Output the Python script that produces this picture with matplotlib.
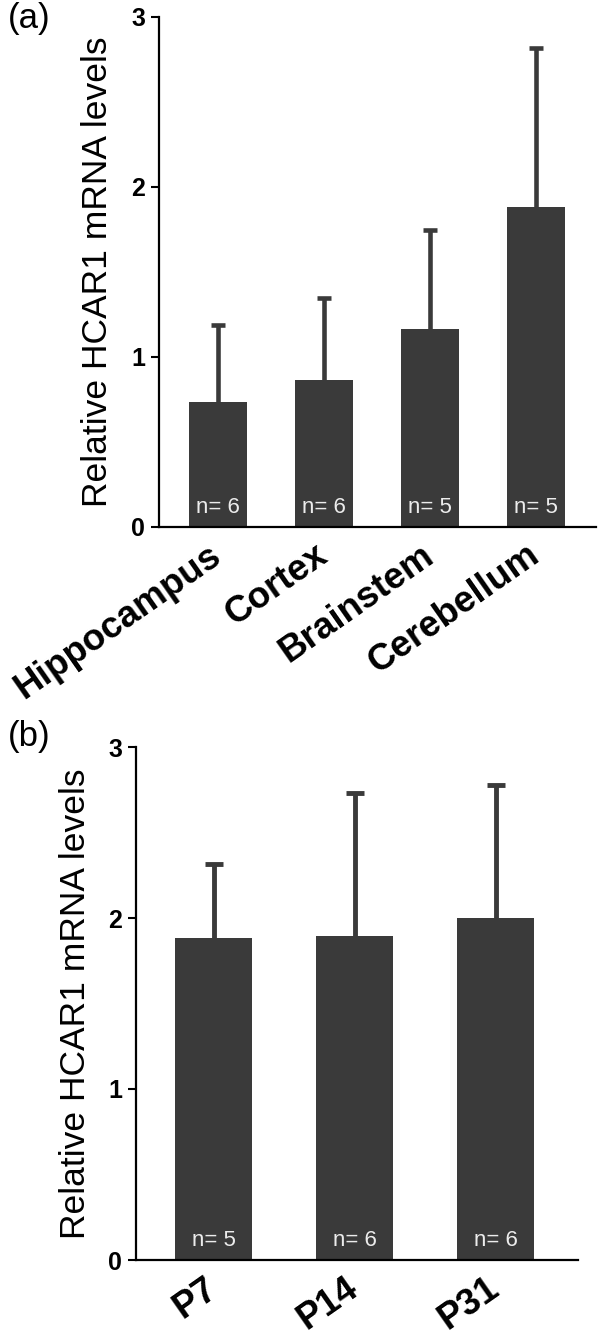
import matplotlib
matplotlib.use("Agg")
import matplotlib.pyplot as plt
import matplotlib.transforms as mtransforms

plt.rcParams['font.family'] = ['Liberation Sans', 'DejaVu Sans']

# Panel (a): brain regions
regions = ["Hippocampus", "Cortex", "Brainstem", "Cerebellum"]
region_means = [0.735, 0.867, 1.165, 1.88]
region_upper = [1.19, 1.35, 1.75, 2.82]   # top of error bars
region_n = ["n= 6", "n= 6", "n= 5", "n= 5"]

# Panel (b): developmental ages
ages = ["P7", "P14", "P31"]
age_means = [1.882, 1.893, 1.998]
age_upper = [2.315, 2.733, 2.78]
age_n = ["n= 5", "n= 6", "n= 6"]

yticks = [0, 1, 2, 3]
ylabel = "Relative HCAR1 mRNA levels"

BAR = "#3a3a3a"
W, H = 602, 1338
fig = plt.figure(figsize=(W / 100, H / 100), dpi=100)

def px_axes(x0, x1, ytop, ybot):
    return fig.add_axes([x0 / W, 1 - ybot / H, (x1 - x0) / W, (ybot - ytop) / H])

def draw(ax, cats, means, upper, ns, width, xlim, cap, lw, ylab_x):
    xs = list(range(len(cats)))
    errs = [u - m for u, m in zip(upper, means)]
    ax.bar(xs, means, width=width, color=BAR, zorder=2)
    ax.errorbar(xs, means, yerr=[[0] * len(errs), errs], fmt='none',
                ecolor=BAR, elinewidth=lw, capsize=0, zorder=1)
    ax.plot(xs, upper, linestyle='none', marker='_', markersize=cap,
            markeredgewidth=lw, color=BAR, zorder=1)
    for x, t in zip(xs, ns):
        ax.text(x, 0.08, t, color='#ececec', fontsize=16, ha='center',
                va='baseline', zorder=3)
    ax.set_xlim(*xlim)
    ax.set_ylim(0, 3)
    ax.set_yticks(yticks)
    ax.set_yticklabels([str(v) for v in yticks], fontsize=18, fontweight='bold')
    ax.set_xticks(xs)
    ax.set_xticklabels(cats, rotation=35, ha='right', rotation_mode='anchor',
                       fontsize=26.5, fontweight='bold', va='center')
    shift = mtransforms.ScaledTranslation(7 / 100, 0, fig.dpi_scale_trans)
    for lab in ax.get_xticklabels():
        lab.set_transform(lab.get_transform() + shift)
    ax.tick_params(axis='x', length=0, pad=18)
    ax.tick_params(axis='y', length=6, width=1.5, pad=4, direction='out')
    for s in ['top', 'right']:
        ax.spines[s].set_visible(False)
    for s in ['left', 'bottom']:
        ax.spines[s].set_linewidth(1.6)
    ax.set_ylabel(ylabel, fontsize=25.5)
    ax.yaxis.set_label_coords(ylab_x, 0.5)
    ax.patch.set_alpha(0)

axa = px_axes(159, 596, 17, 527)
draw(axa, regions, region_means, region_upper, region_n, 0.55, (-0.557, 3.566),
     10.5, 3.3, -0.103)

axb = px_axes(136, 578, 747, 1260)
draw(axb, ages, age_means, age_upper, age_n, 0.55, (-0.55, 2.585),
     13.5, 3.5, -0.10)

fig.text(8 / W, 1 - 2 / H, "(a)", fontsize=25, va='top', ha='left')
fig.text(8 / W, 1 - 720 / H, "(b)", fontsize=25, va='top', ha='left')

fig.savefig("out.png", dpi=100)
